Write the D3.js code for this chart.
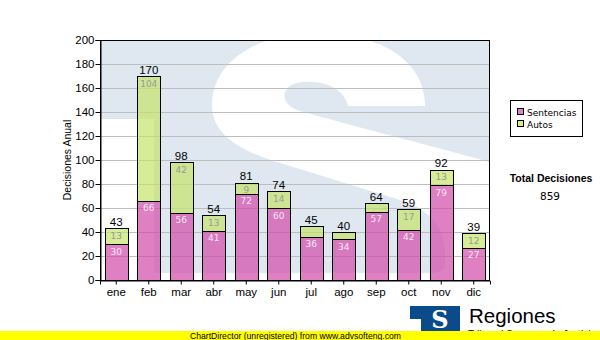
<!DOCTYPE html>
<html>
<head>
<meta charset="utf-8">
<script src="https://cdn.jsdelivr.net/npm/d3@7/dist/d3.min.js"></script>
<style>
  html, body { margin: 0; padding: 0; background: #fff; }
  svg { display: block; }
</style>
</head>
<body>
<div id="chart"></div>
<script>
// ---- data ----
const categories = ["ene","feb","mar","abr","may","jun","jul","ago","sep","oct","nov","dic"];
const sentencias = [30, 66, 56, 41, 72, 60, 36, 34, 57, 42, 79, 27];
const autos      = [13, 104, 42, 13, 9, 14, 9, 6, 7, 17, 13, 12];
const seriesNames = ["Sentencias", "Autos"];
const yTicks = [0, 20, 40, 60, 80, 100, 120, 140, 160, 180, 200];
const hiddenAutosLabels = ["jul", "ago", "sep"];
const yTitle = "Decisiones Anual";
const totalTitle = "Total Decisiones";
const brandName = "Regiones";
const brandSub = "Tribunal Supremo de Justicia";
const footer = "ChartDirector (unregistered) from www.advsofteng.com";

// ---- layout ----
const W = 600, H = 340;
const plot = { left: 100, top: 40, right: 490, bottom: 280 };
const colors = { sent: "#d14aa9", autos: "#c4e469" };

const svg = d3.select("#chart").append("svg").attr("width", W).attr("height", H);

const x = d3.scaleBand().domain(categories).range([plot.left, plot.right])
  .paddingInner(0.3).paddingOuter(0.15);
const y = d3.scaleLinear().domain([0, 200]).range([plot.bottom, plot.top]);

// plot background + watermark
const defs = svg.append("defs");
defs.append("clipPath").attr("id", "plotclip").append("rect")
  .attr("x", plot.left).attr("y", plot.top)
  .attr("width", plot.right - plot.left).attr("height", plot.bottom - plot.top);

const bg = svg.append("g").attr("clip-path", "url(#plotclip)");
bg.append("rect").attr("x", plot.left).attr("y", plot.top)
  .attr("width", plot.right - plot.left).attr("height", plot.bottom - plot.top)
  .attr("fill", "#dfe8f1");
bg.append("path").attr("fill", "#ffffff")
  .attr("d", "M348,106 L425,106 C425,60 380,33 315,33 C260,33 212,60 212,105 " +
             "C212,135 240,152 290,166 L400,200 C432,210 445,228 445,255 L445,265 " +
             "C445,270 440,273 432,273 L154,273 L154,119 L100,119 L100,300 L500,300 L500,165 " +
             "C440,148 360,128 300,111 C278,105 280,84 302,82 C330,80 345,92 348,106 Z");

// gridlines
svg.append("g").selectAll("line").data(yTicks.filter(d => d > 0 && d < 200)).join("line")
  .attr("x1", plot.left).attr("x2", plot.right)
  .attr("y1", d => y(d) + 0.5).attr("y2", d => y(d) + 0.5)
  .attr("stroke", "#bdbdbd").attr("stroke-width", 1);

// bars
const data = categories.map((c, i) => ({ c, s: sentencias[i], a: autos[i], t: sentencias[i] + autos[i] }));
const bars = svg.append("g");
bars.selectAll("rect.s").data(data).join("rect").attr("class", "s")
  .attr("x", d => Math.round(x(d.c)) + 0.5).attr("width", Math.round(x.bandwidth()))
  .attr("y", d => Math.round(y(d.s)) + 0.5).attr("height", d => Math.round(y(0)) - Math.round(y(d.s)))
  .attr("fill", colors.sent).attr("fill-opacity", 0.7).attr("stroke", "#000");
bars.selectAll("rect.a").data(data).join("rect").attr("class", "a")
  .attr("x", d => Math.round(x(d.c)) + 0.5).attr("width", Math.round(x.bandwidth()))
  .attr("y", d => Math.round(y(d.t)) + 0.5).attr("height", d => Math.round(y(d.s)) - Math.round(y(d.t)))
  .attr("fill", colors.autos).attr("fill-opacity", 0.7).attr("stroke", "#000");

// inside labels
const lab = svg.append("g").attr("font-family", "DejaVu Sans").attr("font-size", 9).attr("text-anchor", "middle");
lab.selectAll("text.s").data(data).join("text")
  .attr("x", d => x(d.c) + x.bandwidth() / 2).attr("y", d => y(d.s) + 10.5)
  .attr("fill", "#fff").attr("fill-opacity", 0.85).text(d => d.s);
lab.selectAll("text.a").data(data.filter(d => !hiddenAutosLabels.includes(d.c))).join("text")
  .attr("x", d => x(d.c) + x.bandwidth() / 2).attr("y", d => y(d.t) + 10.5)
  .attr("fill", "#999").text(d => d.a);

// total labels
svg.append("g").attr("font-family", "Liberation Sans, Arial").attr("font-size", 11.5).attr("text-anchor", "middle")
  .selectAll("text").data(data).join("text")
  .attr("x", d => x(d.c) + x.bandwidth() / 2).attr("y", d => y(d.t) - 2.5)
  .attr("fill", "#000").text(d => d.t);

// plot border
svg.append("rect").attr("x", plot.left + 0.5).attr("y", plot.top + 0.5)
  .attr("width", plot.right - plot.left - 1).attr("height", plot.bottom - plot.top)
  .attr("fill", "none").attr("stroke", "#000");

// axes
const yAxis = svg.append("g").attr("transform", `translate(${plot.left + 0.5},0)`)
  .call(d3.axisLeft(y).tickValues(yTicks).tickSize(5).tickPadding(1));
const xAxis = svg.append("g").attr("transform", `translate(0,${plot.bottom + 0.5})`)
  .call(d3.axisBottom(x).tickSize(4).tickPadding(3));
[yAxis, xAxis].forEach(g => {
  g.select(".domain").attr("stroke", "#000");
  g.selectAll(".tick line").attr("stroke", "#000");
  g.selectAll(".tick text").attr("fill", "#000")
    .attr("font-family", "Liberation Sans, Arial").attr("font-size", 11.5);
});

// y title
svg.append("text").attr("transform", "translate(71,160) rotate(-90)")
  .attr("text-anchor", "middle").attr("font-family", "Liberation Sans, Arial").attr("font-size", 10.5)
  .attr("fill", "#000").text(yTitle);

// legend
const lg = svg.append("g");
lg.append("rect").attr("x", 510.5).attr("y", 100.5).attr("width", 72).attr("height", 36)
  .attr("fill", "#fff").attr("stroke", "#000");
seriesNames.forEach((n, i) => {
  lg.append("rect").attr("x", 517.5).attr("y", 108.5 + i * 12).attr("width", 6).attr("height", 6)
    .attr("fill", i === 0 ? colors.sent : colors.autos).attr("fill-opacity", 0.7).attr("stroke", "#000");
  lg.append("text").attr("x", 527).attr("y", 116 + i * 12)
    .attr("font-family", "DejaVu Sans").attr("font-size", 9).attr("fill", "#000").text(n);
});

// total
const total = d3.sum(data, d => d.t);
svg.append("text").attr("x", 551).attr("y", 182).attr("text-anchor", "middle")
  .attr("font-family", "Liberation Sans, Arial").attr("font-weight", "bold").attr("font-size", 10.5)
  .attr("fill", "#000").text(totalTitle);
svg.append("text").attr("x", 550).attr("y", 199.5).attr("text-anchor", "middle")
  .attr("font-family", "DejaVu Sans").attr("font-size", 10.5)
  .attr("fill", "#000").text(total);

// brand logo
const logo = svg.append("g");
logo.append("rect").attr("x", 410).attr("y", 306).attr("width", 50).attr("height", 26).attr("fill", "#0b4a8b");
logo.append("rect").attr("x", 410).attr("y", 319).attr("width", 11).attr("height", 13).attr("fill", "#fff");
logo.append("text").attr("x", 440).attr("y", 328).attr("text-anchor", "middle")
  .attr("font-family", "DejaVu Serif").attr("font-weight", "bold").attr("font-size", 24)
  .attr("fill", "#fff").text("S");
svg.append("text").attr("x", 469).attr("y", 323).attr("font-family", "Liberation Sans, Arial")
  .attr("font-size", 20.5).attr("fill", "#000").text(brandName);
svg.append("text").attr("x", 468).attr("y", 338).attr("font-family", "Liberation Sans, Arial")
  .attr("font-size", 10).attr("textLength", 128).attr("lengthAdjust", "spacingAndGlyphs")
  .attr("fill", "#000").text(brandSub);

// footer bar
svg.append("rect").attr("x", 0).attr("y", 331).attr("width", W).attr("height", 9).attr("fill", "#ffff00");
svg.append("text").attr("x", 190).attr("y", 338.5)
  .attr("font-family", "Liberation Sans, Arial").attr("font-size", 9.5)
  .attr("textLength", 211).attr("lengthAdjust", "spacingAndGlyphs")
  .attr("fill", "#000").text(footer);
</script>
</body>
</html>
